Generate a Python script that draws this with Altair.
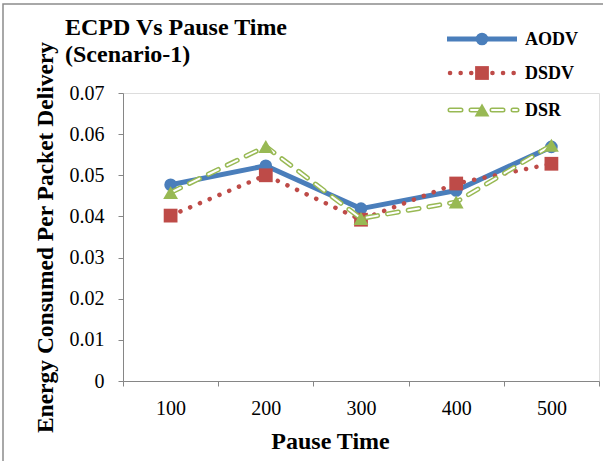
import altair as alt
import pandas as pd

# ---- data ----
pause_times = [100, 200, 300, 400, 500]
series_names = ["AODV", "DSDV", "DSR"]
aodv = [0.0477, 0.0523, 0.0419, 0.0463, 0.0569]
dsdv = [0.0402, 0.0500, 0.0392, 0.0480, 0.0528]
dsr = [0.0458, 0.0570, 0.0395, 0.0435, 0.0573]
y_ticks = [0, 0.01, 0.02, 0.03, 0.04, 0.05, 0.06, 0.07]
title_lines = ["ECPD Vs Pause Time", "(Scenario-1)"]
x_title = "Pause Time"
y_title = "Energy Consumed Per Packet Delivery"

rows = []
for name, vals in zip(series_names, [aodv, dsdv, dsr]):
    for p, v in zip(pause_times, vals):
        rows.append({"series": name, "pause": p, "ecpd": v})
df = pd.DataFrame(rows)

FONT = "Liberation Serif"
BLUE = "#4A7EBB"
RED = "#BE4B48"
GREEN = "#98B954"
AXIS_GRAY = "#868686"

W, H = 476, 288

x_enc = alt.X(
    "pause:O",
    scale=alt.Scale(type="band", paddingInner=0, paddingOuter=0),
    axis=alt.Axis(
        title=x_title, labelAngle=0, tickBand="extent", tickSize=5,
        tickColor=AXIS_GRAY, domainColor=AXIS_GRAY, labelFont=FONT,
        labelFontSize=20, labelColor="black", labelPadding=12,
        titleFont=FONT, titleFontSize=24, titleFontWeight="bold",
        titleColor="black", titleX=207, titleY=67, titleAlign="center",
        titleBaseline="alphabetic", grid=False,
    ),
)
y_enc = alt.Y(
    "ecpd:Q",
    scale=alt.Scale(domain=[0, 0.07], nice=False),
    axis=alt.Axis(
        title=y_title, values=y_ticks, tickSize=5, tickColor=AXIS_GRAY,
        domainColor=AXIS_GRAY, labelFont=FONT, labelFontSize=20,
        labelColor="black", labelPadding=14,
        labelExpr="datum.value == 0 ? '0' : format(datum.value, '.2f')",
        titleFont=FONT, titleFontSize=23.5, titleFontWeight="bold",
        titleColor="black", titleAngle=270, titleX=-71, titleY=H / 2,
        titleAlign="center", titleBaseline="alphabetic", grid=False,
    ),
)

base = alt.Chart(df).encode(x=x_enc, y=y_enc)


def sel(name):
    return base.transform_filter(alt.datum.series == name)


aodv_line = sel("AODV").mark_line(color=BLUE, strokeWidth=5, strokeJoin="round")
aodv_pts = sel("AODV").mark_point(shape="circle", size=160, filled=True, color=BLUE, opacity=1)

dsdv_line = sel("DSDV").mark_line(color=RED, strokeWidth=4.5, strokeDash=[0.1, 10.5], strokeCap="round")
dsdv_pts = sel("DSDV").mark_point(shape="square", size=190, filled=True, color=RED, opacity=1)

dsr_outer = sel("DSR").mark_line(color=GREEN, strokeWidth=5, strokeDash=[11, 10], strokeCap="round")
dsr_inner = sel("DSR").mark_line(color="white", strokeWidth=2, strokeDash=[11, 10], strokeCap="round")
dsr_pts = sel("DSR").mark_point(shape="triangle-up", size=220, filled=True, color=GREEN, opacity=1)

# ---- manual legend (top right, inside plot) ----
leg_x1, leg_x2, leg_mid, leg_lab = 324, 394, 359, 402
leg_y = {"AODV": -54, "DSDV": -20, "DSR": 17}


def one(name):
    return alt.Chart(pd.DataFrame({"series": [name]}))


legend_layers = []
# AODV
legend_layers.append(one("AODV").mark_rule(color=BLUE, strokeWidth=5).encode(
    x=alt.value(leg_x1), x2=alt.value(leg_x2), y=alt.value(leg_y["AODV"])))
legend_layers.append(one("AODV").mark_point(shape="circle", size=160, filled=True, color=BLUE, opacity=1).encode(
    x=alt.value(leg_mid), y=alt.value(leg_y["AODV"])))
# DSDV
legend_layers.append(one("DSDV").mark_rule(color=RED, strokeWidth=4.5, strokeDash=[0.1, 10.5], strokeCap="round").encode(
    x=alt.value(leg_x1 + 3), x2=alt.value(leg_x2), y=alt.value(leg_y["DSDV"])))
legend_layers.append(one("DSDV").mark_point(shape="square", size=190, filled=True, color=RED, opacity=1).encode(
    x=alt.value(leg_mid), y=alt.value(leg_y["DSDV"])))
# DSR
legend_layers.append(one("DSR").mark_rule(color=GREEN, strokeWidth=5, strokeDash=[11, 10], strokeCap="round").encode(
    x=alt.value(leg_x1 + 3), x2=alt.value(leg_x2), y=alt.value(leg_y["DSR"])))
legend_layers.append(one("DSR").mark_rule(color="white", strokeWidth=2, strokeDash=[11, 10], strokeCap="round").encode(
    x=alt.value(leg_x1 + 3), x2=alt.value(leg_x2), y=alt.value(leg_y["DSR"])))
legend_layers.append(one("DSR").mark_point(shape="triangle-up", size=220, filled=True, color=GREEN, opacity=1).encode(
    x=alt.value(leg_mid), y=alt.value(leg_y["DSR"])))
for name in series_names:
    legend_layers.append(one(name).mark_text(
        font=FONT, fontSize=18, fontWeight="bold", color="black",
        align="left", baseline="alphabetic").encode(
        x=alt.value(leg_lab), y=alt.value(leg_y[name] + 6), text="series:N"))

frame = one("frame").mark_rect(fillOpacity=0, stroke="#8C8C8C", strokeWidth=1.5).encode(
    x=alt.value(-120), x2=alt.value(700), y=alt.value(-89), y2=alt.value(600))

chart = alt.layer(
    frame,
    aodv_line, aodv_pts,
    dsdv_line, dsdv_pts,
    dsr_outer, dsr_inner, dsr_pts,
    *legend_layers,
).properties(
    width=W,
    height=H,
    title=alt.TitleParams(
        text=title_lines, anchor="start", frame="group", dx=-58, font=FONT,
        fontSize=24, fontWeight="bold", color="black", lineHeight=27,
        offset=-64,
    ),
    autosize=alt.AutoSizeParams(type="none"),
    padding={"left": 123, "top": 93, "right": 4, "bottom": 80},
).configure_view(strokeWidth=0).configure(font=FONT)

chart.save("out.html", embed_options={"renderer": "svg", "actions": False})
